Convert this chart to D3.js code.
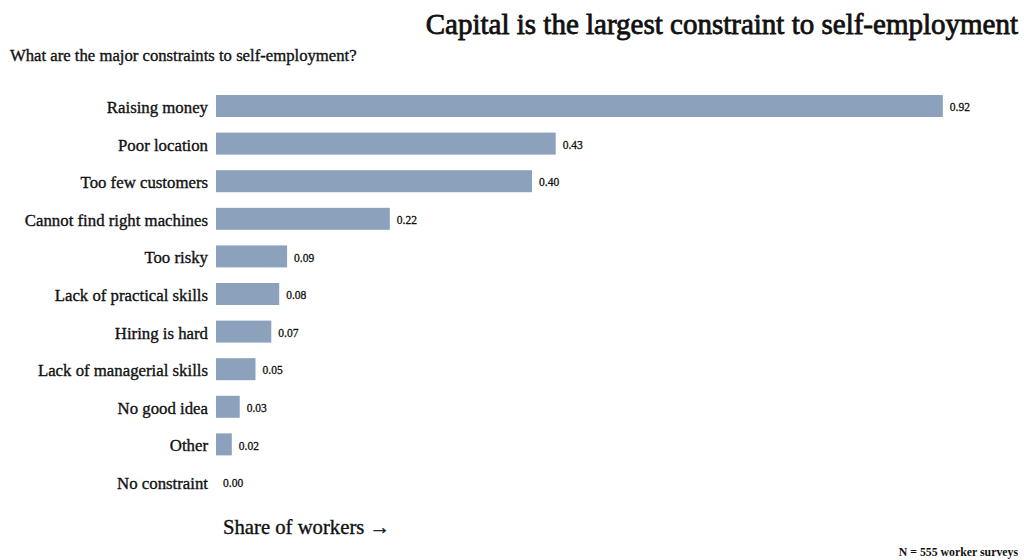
<!DOCTYPE html>
<html>
<head>
<meta charset="utf-8">
<script src="https://cdn.jsdelivr.net/npm/d3@7"></script>
<style>
  html, body { margin: 0; padding: 0; background: #ffffff; }
  svg { display: block; }
  text { font-family: "Liberation Serif", "DejaVu Serif", serif; fill: #111111; }
  /* a thin outline gives the regular face a medium weight */
  .medium { stroke: #111111; stroke-width: 0.35px; paint-order: stroke; }
</style>
</head>
<body>
<svg id="chart" width="1024" height="560"></svg>
<script>
// Survey responses: share of workers naming each constraint
const categories = [
  "Raising money",
  "Poor location",
  "Too few customers",
  "Cannot find right machines",
  "Too risky",
  "Lack of practical skills",
  "Hiring is hard",
  "Lack of managerial skills",
  "No good idea",
  "Other",
  "No constraint"
];
const shares = [0.92, 0.43, 0.40, 0.22, 0.09, 0.08, 0.07, 0.05, 0.03, 0.02, 0.00];

const titleText = "Capital is the largest constraint to self-employment";
const subtitleText = "What are the major constraints to self-employment?";
const axisTitle = "Share of workers \u2192";
const noteText = "N = 555 worker surveys";

const barColor = "#8ba1bc";

const svg = d3.select("#chart");

const x = d3.scaleLinear().domain([0, 1]).range([216, 1006]);
const y = d3.scaleBand()
  .domain(categories)
  .range([87.5, 500.5])
  .paddingInner(0.415)
  .paddingOuter(0.2);

const rows = categories.map((c, i) => ({ cat: c, val: shares[i] }));

// Bars
svg.append("g")
  .selectAll("rect")
  .data(rows)
  .join("rect")
  .attr("x", x(0))
  .attr("y", d => y(d.cat))
  .attr("width", d => x(d.val) - x(0))
  .attr("height", y.bandwidth())
  .attr("fill", barColor);

// Category labels (left axis, no line or ticks)
const yAxis = d3.axisLeft(y).tickSize(0).tickPadding(8);
const gy = svg.append("g")
  .attr("transform", `translate(${x(0)},0)`)
  .call(yAxis);
gy.select(".domain").remove();
gy.selectAll("text")
  .attr("class", "medium")
  .attr("dy", "0.42em")
  .style("font-family", '"Liberation Serif", serif')
  .style("font-size", "16.8px")
  .attr("fill", "#111");

// Value labels
svg.append("g")
  .selectAll("text")
  .data(rows)
  .join("text")
  .attr("class", "medium")
  .attr("x", d => x(d.val) + 7)
  .attr("y", d => y(d.cat) + y.bandwidth() / 2)
  .attr("dy", "0.45em")
  .style("font-size", "11.5px")
  .style("stroke-width", "0.3px")
  .text(d => d3.format(".2f")(d.val));

// Title
svg.append("text")
  .attr("class", "medium")
  .attr("x", 1018)
  .attr("y", 34)
  .attr("text-anchor", "end")
  .style("font-size", "29px")
  .style("stroke-width", "0.8px")
  .text(titleText);

// Subtitle
svg.append("text")
  .attr("class", "medium")
  .attr("x", 10)
  .attr("y", 61)
  .style("font-size", "16.7px")
  .text(subtitleText);

// Axis title
svg.append("text")
  .attr("class", "medium")
  .attr("x", 223)
  .attr("y", 534)
  .style("font-size", "20.7px")
  .text(axisTitle);

// Note
svg.append("text")
  .attr("x", 1018)
  .attr("y", 556)
  .attr("text-anchor", "end")
  .style("font-size", "11.8px")
  .style("font-weight", "bold")
  .text(noteText);
</script>
</body>
</html>
